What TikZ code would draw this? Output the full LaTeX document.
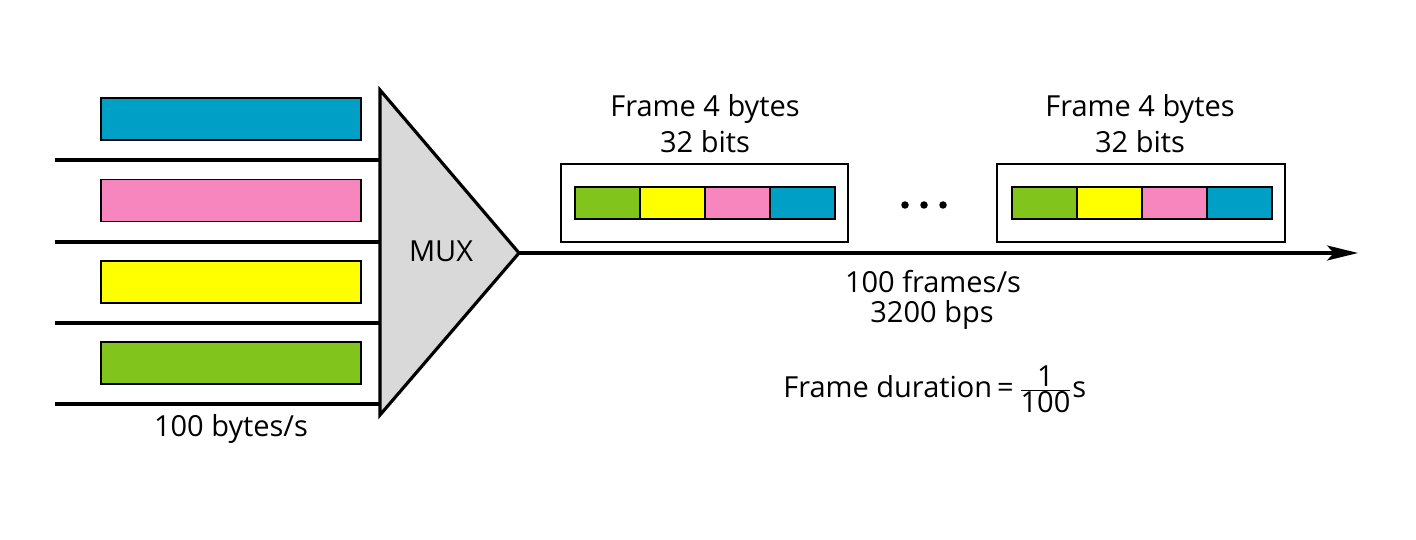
\documentclass[tikz,border=0pt]{standalone}
\usepackage{fontspec}
\setmainfont{Open Sans}
\usetikzlibrary{arrows.meta}
\definecolor{cblue}{HTML}{00A0C6}
\definecolor{cpink}{HTML}{F785BE}
\definecolor{cyellow}{HTML}{FFFF00}
\definecolor{cgreen}{HTML}{80C41C}
\definecolor{muxgray}{HTML}{D9D9D9}
\begin{document}
\begin{tikzpicture}[x=0.02cm,y=-0.02cm,
  txt/.style={font=\fontsize{16.5}{19}\selectfont, inner sep=0pt},
  bar/.style={draw=black, line width=1.1pt, minimum width=5.2cm, minimum height=0.84cm, inner sep=0pt},
  cell/.style={draw=black, line width=1.1pt, minimum width=1.3cm, minimum height=0.64cm, inner sep=0pt},
  framebox/.style={draw=black, line width=0.9pt, minimum width=5.74cm, minimum height=1.56cm, inner sep=0pt},
  wire/.style={line width=1.8pt},
  dot/.style={circle, fill=black, inner sep=0pt, minimum size=0.15cm}]
\useasboundingbox (0,0) rectangle (1416,540);
% input bars
\node[bar, fill=cblue]   (b1) at (231,119) {};
\node[bar, fill=cpink]   (b2) at (231,200.5) {};
\node[bar, fill=cyellow] (b3) at (231,282) {};
\node[bar, fill=cgreen]  (b4) at (231,363) {};
% input lines
\foreach \i/\y in {1/160,2/242,3/323,4/404} {
  \coordinate (l\i) at (55,\y);
  \coordinate (r\i) at (380,\y);
  \draw[wire] (l\i) -- (r\i);
}
% MUX
\coordinate (mt) at (380,90);
\coordinate (mb) at (380,415);
\coordinate (tip) at (519,253);
\draw[wire, fill=muxgray, line join=miter] (mt) -- (tip) -- (mb) -- cycle;
\node[txt, anchor=base] (mux) at (441,262) {MUX};
\node[txt, anchor=base] (inrate) at (231,436) {100 bytes/s};
% output line
\coordinate (end) at (1358,253);
\draw[wire, -{Stealth[length=0.62cm, width=0.3cm, inset=0.14cm]}] (tip) -- (end);
% frame 1
\node[framebox] (f1) at (704.5,203) {};
\node[cell, fill=cgreen]  (f1a) at (607.5,203) {};
\node[cell, fill=cyellow] (f1b) at (672.5,203) {};
\node[cell, fill=cpink]   (f1c) at (737.5,203) {};
\node[cell, fill=cblue]   (f1d) at (802.5,203) {};
\node[txt, anchor=base] (f1t1) at (705,117) {Frame 4 bytes};
\node[txt, anchor=base] (f1t2) at (705,153) {32 bits};
% dots
\node[dot] (d1) at (905,205) {};
\node[dot] (d2) at (924,205) {};
\node[dot] (d3) at (943,205) {};
% frame 2
\node[framebox, minimum width=5.76cm] (f2) at (1141,203) {};
\node[cell, fill=cgreen]  (f2a) at (1044.5,203) {};
\node[cell, fill=cyellow] (f2b) at (1109.5,203) {};
\node[cell, fill=cpink]   (f2c) at (1174.5,203) {};
\node[cell, fill=cblue]   (f2d) at (1239.5,203) {};
\node[txt, anchor=base] (f2t1) at (1140,117) {Frame 4 bytes};
\node[txt, anchor=base] (f2t2) at (1140,153) {32 bits};
% rates
\node[txt, anchor=base] (r1t) at (933,293) {100 frames/s};
\node[txt, anchor=base] (r2t) at (932,323) {3200 bps};
\node[txt, anchor=base west] (dur) at (783,398) {Frame duration\,=\,$\frac{\mbox{1}}{\mbox{100}}$\mbox{s}};
\end{tikzpicture}
\end{document}
